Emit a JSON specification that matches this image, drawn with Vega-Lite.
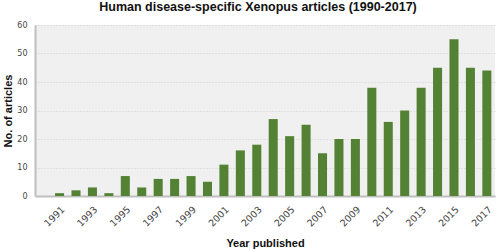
{
  "$schema": "https://vega.github.io/schema/vega-lite/v6.json",
  "width": 460,
  "height": 171,
  "autosize": {"type": "none"},
  "padding": {"left": 35, "top": 25, "right": 4, "bottom": 54},
  "background": "white",
  "title": {
    "text": "Human disease-specific Xenopus articles (1990-2017)",
    "font": "Liberation Sans",
    "fontSize": 12.5,
    "fontWeight": "bold",
    "color": "#111111",
    "anchor": "middle",
    "offset": 8,
    "dx": -7
  },
  "config": {
    "view": {"fill": "#f0f0f0", "stroke": null},
    "axis": {"labelFont": "DejaVu Sans", "titleFont": "Liberation Sans"}
  },
  "data": {
    "values": [
      {"year": "1990", "n": 0},
      {"year": "1991", "n": 1},
      {"year": "1992", "n": 2},
      {"year": "1993", "n": 3},
      {"year": "1994", "n": 1},
      {"year": "1995", "n": 7},
      {"year": "1996", "n": 3},
      {"year": "1997", "n": 6},
      {"year": "1998", "n": 6},
      {"year": "1999", "n": 7},
      {"year": "2000", "n": 5},
      {"year": "2001", "n": 11},
      {"year": "2002", "n": 16},
      {"year": "2003", "n": 18},
      {"year": "2004", "n": 27},
      {"year": "2005", "n": 21},
      {"year": "2006", "n": 25},
      {"year": "2007", "n": 15},
      {"year": "2008", "n": 20},
      {"year": "2009", "n": 20},
      {"year": "2010", "n": 38},
      {"year": "2011", "n": 26},
      {"year": "2012", "n": 30},
      {"year": "2013", "n": 38},
      {"year": "2014", "n": 45},
      {"year": "2015", "n": 55},
      {"year": "2016", "n": 45},
      {"year": "2017", "n": 44}
    ]
  },
  "mark": {"type": "bar", "color": "#548235"},
  "encoding": {
    "x": {
      "field": "year",
      "type": "ordinal",
      "scale": {"paddingInner": 0.45, "paddingOuter": 0.22},
      "axis": {
        "title": "Year published",
        "titleFontSize": 11,
        "titleFontWeight": "bold",
        "titleColor": "#111111",
        "titlePadding": 10,
        "labelAngle": -45,
        "labelFontSize": 9.5,
        "labelColor": "#444444",
        "labelExpr": "toNumber(datum.value) % 2 == 1 ? datum.value : ''",
        "ticks": false,
        "domainColor": "#bfbfbf",
        "domainWidth": 2,
        "labelPadding": 8
      }
    },
    "y": {
      "field": "n",
      "type": "quantitative",
      "scale": {"domain": [0, 60]},
      "axis": {
        "title": "No. of articles",
        "titleFontSize": 11,
        "titleFontWeight": "bold",
        "titleColor": "#111111",
        "titlePadding": 3,
        "values": [0, 10, 20, 30, 40, 50, 60],
        "labelFontSize": 8,
        "labelColor": "#444444",
        "ticks": false,
        "labelPadding": 8,
        "domainColor": "#bfbfbf",
        "domainWidth": 2,
        "gridColor": "#d0d0d0",
        "gridDash": [1, 2],
        "gridWidth": 1
      }
    }
  }
}
